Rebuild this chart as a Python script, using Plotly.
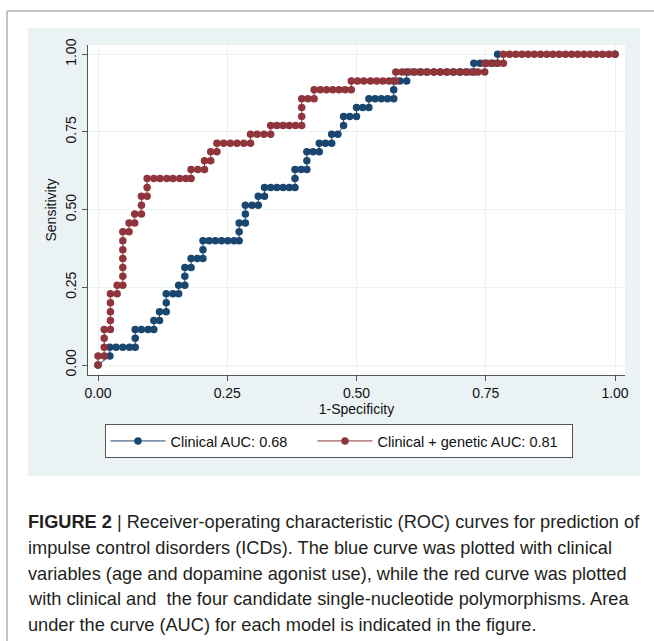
import plotly.graph_objects as go

# ---------------- data ----------------
# Clinical model ROC points
fpr_clin = [
    0.000,
    0.023,
    0.023, 0.035, 0.048, 0.061, 0.072,
    0.072,
    0.072, 0.084, 0.097, 0.108,
    0.108, 0.119,
    0.119, 0.132,
    0.132,
    0.132, 0.145, 0.156,
    0.156, 0.168,
    0.168,
    0.168, 0.180,
    0.180, 0.192, 0.203,
    0.203,
    0.203, 0.215, 0.227, 0.239, 0.251, 0.263, 0.273,
    0.273,
    0.273, 0.285,
    0.285,
    0.285, 0.298, 0.310,
    0.310, 0.322,
    0.322, 0.334, 0.346, 0.358, 0.370, 0.381,
    0.381,
    0.381, 0.393, 0.404,
    0.404,
    0.404, 0.416, 0.428,
    0.428, 0.440, 0.452,
    0.452, 0.464,
    0.475,
    0.475, 0.487, 0.500,
    0.500, 0.512, 0.524,
    0.524, 0.536, 0.548, 0.560, 0.572,
    0.572,
    0.572, 0.584, 0.597,
    0.597, 0.610, 0.623, 0.636, 0.649, 0.662, 0.675, 0.688, 0.701, 0.714, 0.727,
    0.727, 0.739, 0.751, 0.763, 0.773,
    0.773, 1.000,
]
sens_clin = [
    0.000,
    0.029,
    0.057, 0.057, 0.057, 0.057, 0.057,
    0.086,
    0.114, 0.114, 0.114, 0.114,
    0.143, 0.143,
    0.171, 0.171,
    0.200,
    0.229, 0.229, 0.229,
    0.257, 0.257,
    0.286,
    0.314, 0.314,
    0.343, 0.343, 0.343,
    0.371,
    0.400, 0.400, 0.400, 0.400, 0.400, 0.400, 0.400,
    0.429,
    0.457, 0.457,
    0.486,
    0.514, 0.514, 0.514,
    0.543, 0.543,
    0.571, 0.571, 0.571, 0.571, 0.571, 0.571,
    0.600,
    0.629, 0.629, 0.629,
    0.657,
    0.686, 0.686, 0.686,
    0.714, 0.714, 0.714,
    0.743, 0.743,
    0.771,
    0.800, 0.800, 0.800,
    0.829, 0.829, 0.829,
    0.857, 0.857, 0.857, 0.857, 0.857,
    0.886,
    0.914, 0.914, 0.914,
    0.943, 0.943, 0.943, 0.943, 0.943, 0.943, 0.943, 0.943, 0.943, 0.943, 0.943,
    0.971, 0.971, 0.971, 0.971, 0.971,
    1.000, 1.000,
]

# Clinical + genetic model ROC points
fpr_gen = [
    0.000,
    0.000, 0.012,
    0.012,
    0.012,
    0.012, 0.024,
    0.024,
    0.024,
    0.024,
    0.024, 0.037,
    0.037, 0.048,
    0.048,
    0.048,
    0.048,
    0.048,
    0.048,
    0.048, 0.060,
    0.060, 0.071,
    0.071, 0.084,
    0.084,
    0.084, 0.095,
    0.095,
    0.095, 0.108, 0.120, 0.133, 0.145, 0.158, 0.170, 0.180,
    0.180, 0.193, 0.206,
    0.206, 0.218,
    0.218, 0.230,
    0.230, 0.243, 0.256, 0.269, 0.282, 0.295,
    0.295, 0.308, 0.321, 0.334,
    0.334, 0.346, 0.358, 0.370, 0.382, 0.394,
    0.394,
    0.394,
    0.394, 0.406, 0.418,
    0.418, 0.430, 0.442, 0.454, 0.466, 0.478, 0.490,
    0.490, 0.502, 0.514, 0.527, 0.539, 0.551, 0.563, 0.576,
    0.576, 0.588, 0.601, 0.613, 0.625, 0.637, 0.650, 0.662, 0.674, 0.686, 0.699, 0.711, 0.723, 0.735, 0.748,
    0.748, 0.760, 0.772, 0.784,
    0.784, 0.796, 0.808, 0.820, 0.832, 0.844, 0.856, 0.868, 0.880, 0.892, 0.904, 0.916, 0.928, 0.940, 0.952, 0.964, 0.976, 0.988, 1.000,
]
sens_gen = [
    0.000,
    0.029, 0.029,
    0.057,
    0.086,
    0.114, 0.114,
    0.143,
    0.171,
    0.200,
    0.229, 0.229,
    0.257, 0.257,
    0.286,
    0.314,
    0.343,
    0.371,
    0.400,
    0.429, 0.429,
    0.457, 0.457,
    0.486, 0.486,
    0.514,
    0.543, 0.543,
    0.571,
    0.600, 0.600, 0.600, 0.600, 0.600, 0.600, 0.600, 0.600,
    0.629, 0.629, 0.629,
    0.657, 0.657,
    0.686, 0.686,
    0.714, 0.714, 0.714, 0.714, 0.714, 0.714,
    0.743, 0.743, 0.743, 0.743,
    0.771, 0.771, 0.771, 0.771, 0.771, 0.771,
    0.800,
    0.829,
    0.857, 0.857, 0.857,
    0.886, 0.886, 0.886, 0.886, 0.886, 0.886, 0.886,
    0.914, 0.914, 0.914, 0.914, 0.914, 0.914, 0.914, 0.914,
    0.943, 0.943, 0.943, 0.943, 0.943, 0.943, 0.943, 0.943, 0.943, 0.943, 0.943, 0.943, 0.943, 0.943, 0.943,
    0.971, 0.971, 0.971, 0.971,
    1.000, 1.000, 1.000, 1.000, 1.000, 1.000, 1.000, 1.000, 1.000, 1.000, 1.000, 1.000, 1.000, 1.000, 1.000, 1.000, 1.000, 1.000, 1.000,
]

series_names = ["Clinical AUC: 0.68", "Clinical + genetic AUC: 0.81"]
tick_vals = [0, 0.25, 0.5, 0.75, 1]
tick_text = ["0.00", "0.25", "0.50", "0.75", "1.00"]
x_title = "1-Specificity"
y_title = "Sensitivity"
caption_lines = [
    "<b>FIGURE 2</b> | Receiver-operating characteristic (ROC) curves for prediction of",
    "impulse control disorders (ICDs). The blue curve was plotted with clinical",
    "variables (age and dopamine agonist use), while the red curve was plotted",
    "with clinical and  the four candidate single-nucleotide polymorphisms. Area",
    "under the curve (AUC) for each model is indicated in the figure.",
]

# ---------------- styling ----------------
W, H = 654, 641
NAVY = "#1a476f"
MAROON = "#90353b"
PANEL = "#eaf2f3"
FONT = "Liberation Sans, Arial, sans-serif"
NBSP = "\u00a0"

def px_x(p):
    return p / W

def px_y(p):
    return 1 - p / H

fig = go.Figure()
fig.add_trace(go.Scatter(
    x=fpr_clin, y=sens_clin, mode="lines+markers", name=series_names[0] + NBSP * 5,
    line=dict(color=NAVY, width=1),
    marker=dict(color=NAVY, size=7.5, line=dict(width=0)),
))
fig.add_trace(go.Scatter(
    x=fpr_gen, y=sens_gen, mode="lines+markers", name=series_names[1] + NBSP * 2,
    line=dict(color=MAROON, width=1),
    marker=dict(color=MAROON, size=7.5, line=dict(width=0)),
))

# plot area in pixels: x 88..625, y 45..375 ; data 0 at x=98, 1 at x=615 ; 0 at y=365, 1 at y=54
x0px, x1px = 98, 615
y0px, y1px = 365, 54.3
L, R, T, B = 88, 625, 45, 375
xr = [(L - x0px) / (x1px - x0px), (R - x0px) / (x1px - x0px)]
yr = [(y0px - B) / (y0px - y1px), (y0px - T) / (y0px - y1px)]

axis_common = dict(
    showgrid=True, gridcolor=PANEL, gridwidth=1, zeroline=False,
    showline=True, linecolor="#555555", linewidth=1,
    ticks="outside", ticklen=5, tickcolor="#555555", tickwidth=1,
    tickvals=tick_vals, ticktext=tick_text,
    tickfont=dict(family=FONT, size=14, color="#111111"),
    automargin=False, fixedrange=True,
)

fig.update_layout(
    width=W, height=H,
    margin=dict(l=0, r=0, t=0, b=0),
    paper_bgcolor="white", plot_bgcolor="white",
    font=dict(family=FONT, size=14, color="#111111"),
    xaxis=dict(domain=[px_x(L), px_x(R)], range=xr,
               title=dict(text=x_title, font=dict(family=FONT, size=14), standoff=1),
               **axis_common),
    yaxis=dict(domain=[px_y(B), px_y(T)], range=yr, tickangle=-90,
               title=dict(text=y_title, font=dict(family=FONT, size=14), standoff=3),
               **axis_common),
    legend=dict(orientation="h", x=px_x(338.5), xanchor="center", y=px_y(424), yanchor="top",
                bgcolor="white", bordercolor="#555555", borderwidth=1,
                font=dict(family=FONT, size=14.5, color="#111111"), itemwidth=55),
    showlegend=True,
)

shapes = [
    # Stata graph region
    dict(type="rect", xref="paper", yref="paper", x0=px_x(28), x1=px_x(640), y0=px_y(476), y1=px_y(28),
         fillcolor=PANEL, line=dict(width=0), layer="below"),
    # plot region
    dict(type="rect", xref="paper", yref="paper", x0=px_x(L), x1=px_x(R), y0=px_y(B), y1=px_y(T),
         fillcolor="white", line=dict(width=0), layer="below"),
    # outer frame lines
    dict(type="line", xref="paper", yref="paper", x0=px_x(7), x1=1, y0=px_y(11), y1=px_y(11),
         line=dict(color="#8a8a8a", width=1)),
    dict(type="line", xref="paper", yref="paper", x0=px_x(7), x1=px_x(7), y0=0, y1=px_y(11),
         line=dict(color="#8a8a8a", width=1)),
]
fig.update_layout(shapes=shapes)

cap_y = [522, 548, 574, 599, 625]
for txt, yy in zip(caption_lines, cap_y):
    fig.add_annotation(text=txt, xref="paper", yref="paper", x=px_x(26), y=px_y(yy),
                       xanchor="left", yanchor="middle", showarrow=False,
                       font=dict(family=FONT, size=18.2, color="#231f20"))

fig.write_html(
    "out.html",
    config={"displayModeBar": False},
    post_script="document.body.style.margin='0';document.body.style.padding='0';",
)
